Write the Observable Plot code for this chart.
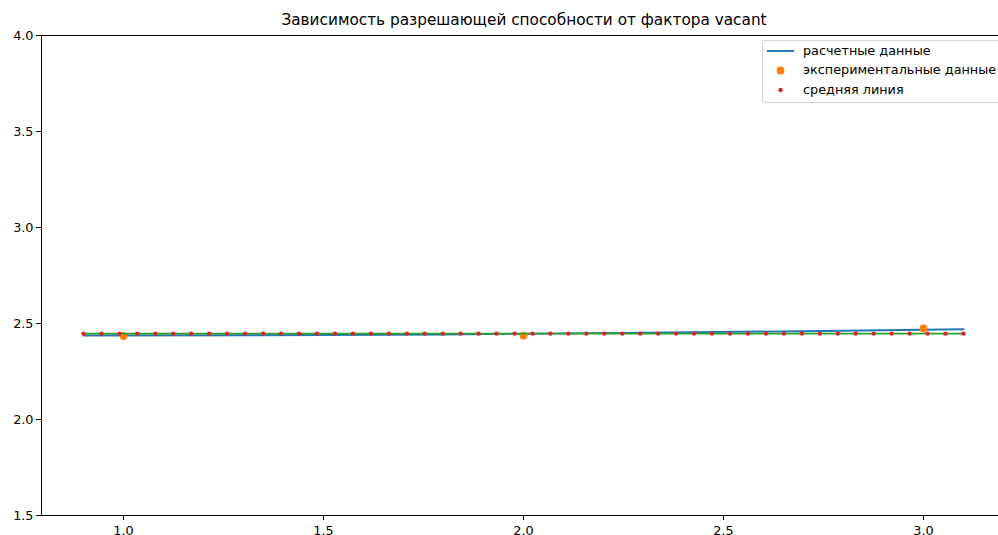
<!DOCTYPE html>
<html><head><meta charset="utf-8">
<script src="https://cdn.jsdelivr.net/npm/d3@7"></script>
<script src="https://cdn.jsdelivr.net/npm/@observablehq/plot@0.6"></script>
<style>
body{margin:0;background:#fff;overflow:hidden}
#wrap{position:relative;width:998px;height:535px;overflow:hidden;font-family:"DejaVu Sans",sans-serif;color:#000}
#chart{position:absolute;left:0;top:0;width:1010px;height:535px}
#chart svg{max-width:none !important}
#title{position:absolute;left:41px;width:966px;top:11px;text-align:center;font-size:15.3px;line-height:18px;white-space:nowrap}
#legend{position:absolute;left:762px;top:40px;width:260px;height:61px;border:1px solid #d3d3d3;border-radius:3px;background:rgba(255,255,255,0.85)}
#legend .row{position:absolute;left:40px;font-size:12.8px;line-height:16px;white-space:nowrap}
#legend svg{position:absolute;left:0;top:0}
</style>
</head><body>
<div id="wrap">
  <div id="chart"></div>
  <div id="title">Зависимость разрешающей способности от фактора vacant</div>
  <div id="legend">
    <svg width="40" height="61">
      <line x1="4" x2="31" y1="10" y2="10" stroke="#1f77b4" stroke-width="1.9"/>
      <circle cx="17.5" cy="29.5" r="3.9" fill="#ff7f0e"/>
      <circle cx="17.5" cy="49" r="2.2" fill="#d62728"/>
    </svg>
    <div class="row" style="top:2px">расчетные данные</div>
    <div class="row" style="top:21px">экспериментальные данные</div>
    <div class="row" style="top:41px">средняя линия</div>
  </div>
</div>
<script>
// расчетные данные (blue line)
const calcX = [0.9, 1.35, 1.8, 2.25, 2.7, 3.1];
const calcY = [2.4375, 2.439, 2.443, 2.451, 2.460, 2.4703];
// экспериментальные данные (orange points)
const expX = [1.0, 2.0, 3.0];
const expY = [2.435, 2.437, 2.474];
// средняя линия (red dots + green line)
const meanX = [0.9, 0.9449, 0.9898, 1.0347, 1.0796, 1.1245, 1.1694, 1.2143, 1.2592, 1.3041,
  1.3490, 1.3939, 1.4388, 1.4837, 1.5286, 1.5735, 1.6184, 1.6633, 1.7082, 1.7531,
  1.7980, 1.8429, 1.8878, 1.9327, 1.9776, 2.0224, 2.0673, 2.1122, 2.1571, 2.2020,
  2.2469, 2.2918, 2.3367, 2.3816, 2.4265, 2.4714, 2.5163, 2.5612, 2.6061, 2.6510,
  2.6959, 2.7408, 2.7857, 2.8306, 2.8755, 2.9204, 2.9653, 3.0102, 3.0551, 3.1];
const meanValue = 2.4475;
// ticks
const xTicks = [1.0, 1.5, 2.0, 2.5, 3.0];
const yTicks = [1.5, 2.0, 2.5, 3.0, 3.5, 4.0];

const calc = calcX.map((x, i) => ({x, y: calcY[i]}));
const exp = expX.map((x, i) => ({x, y: expY[i]}));
const mean = meanX.map(x => ({x, y: meanValue}));

const chart = Plot.plot({
  width: 1010,
  height: 535,
  marginLeft: 41,
  marginRight: 3,
  marginTop: 35,
  marginBottom: 20,
  style: {fontFamily: "DejaVu Sans, sans-serif", fontSize: "12.8px", color: "#000", background: "#fff", maxWidth: "none"},
  x: {domain: [0.795, 3.21]},
  y: {domain: [1.5, 4.0]},
  marks: [
    Plot.axisX({ticks: xTicks, tickFormat: d3.format(".1f"), tickSize: 5, tickPadding: 5, label: null, strokeWidth: 1}),
    Plot.axisY({ticks: yTicks, tickFormat: d3.format(".1f"), tickSize: 5, tickPadding: 3, label: null, strokeWidth: 1}),
    Plot.line(calc, {x: "x", y: "y", stroke: "#1f77b4", strokeWidth: 1.9}),
    Plot.dot(exp, {x: "x", y: "y", r: 3.9, fill: "#ff7f0e", stroke: null}),
    Plot.line(mean, {x: "x", y: "y", stroke: "#2ca02c", strokeWidth: 1.9}),
    Plot.dot(mean, {x: "x", y: "y", r: 2.2, fill: "#d62728", stroke: null}),
    Plot.frame({stroke: "#000", strokeWidth: 1})
  ]
});
document.getElementById("chart").appendChild(chart);
</script>
</body></html>
